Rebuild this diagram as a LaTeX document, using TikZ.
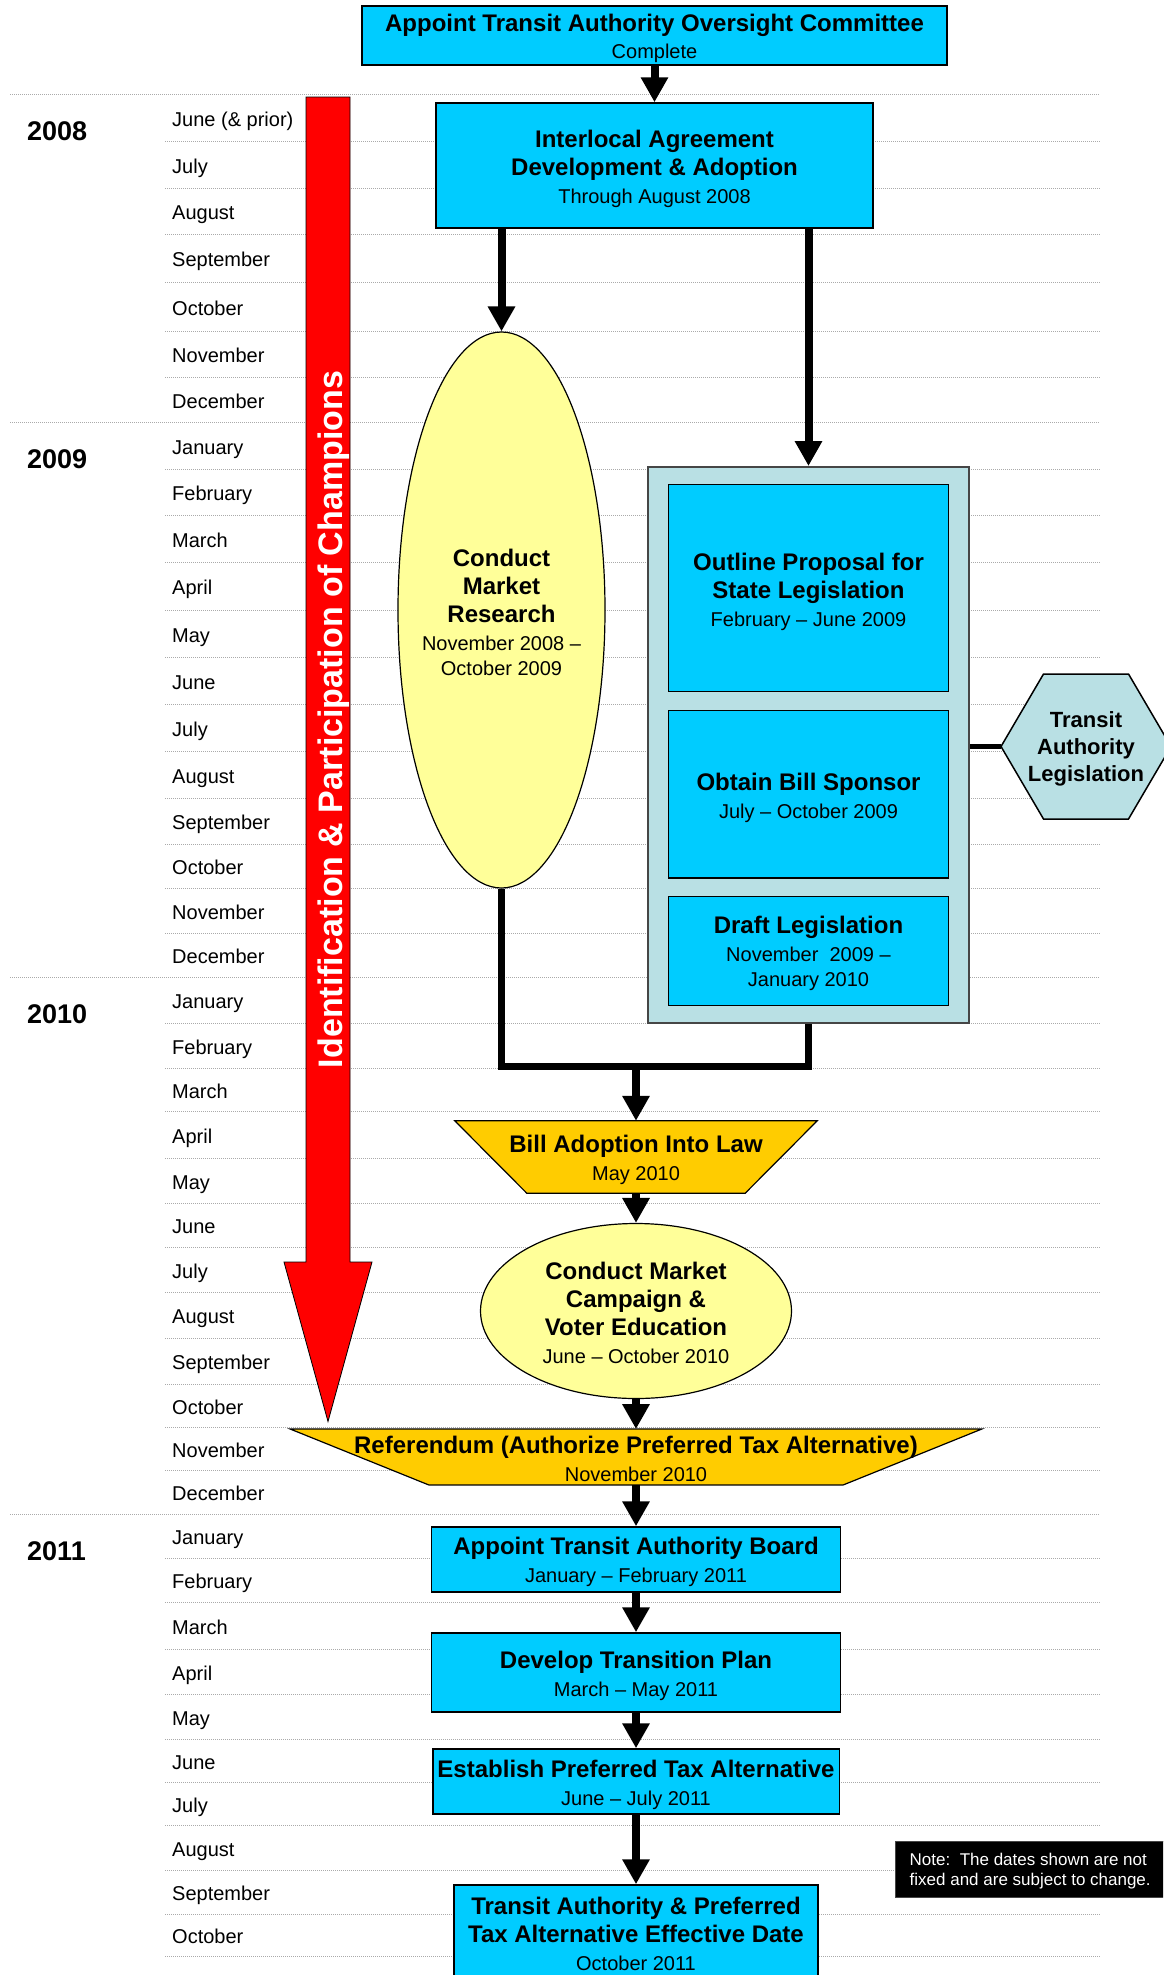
\documentclass[tikz,border=0pt]{standalone}
\usepackage{fontspec}
\setmainfont{Liberation Sans}
\usetikzlibrary{arrows.meta,shapes.geometric}
\definecolor{cyanbox}{RGB}{0,204,255}
\definecolor{lbox}{RGB}{185,224,228}
\definecolor{ybox}{RGB}{255,255,153}
\definecolor{gbox}{RGB}{255,204,0}
\definecolor{gridc}{RGB}{170,170,170}
\definecolor{contour}{RGB}{70,70,70}
\pgfdeclarelayer{gridlayer}
\pgfdeclarelayer{bglayer}
\pgfsetlayers{gridlayer,bglayer,main}
\newcommand\hd[1]{{\fontsize{24}{28}\selectfont\bfseries #1}}
\newcommand\sbt[1]{{\fontsize{20}{28}\selectfont #1}}
\tikzset{
  gridline/.style={draw=gridc, line width=1pt, dash pattern=on 1pt off 1pt},
  box/.style={draw=black, line width=1.5pt, fill=cyanbox, inner sep=0pt},
  txt/.style={inner sep=0pt, align=center, font=\fontsize{20}{28}\selectfont},
  ellbox/.style={ellipse, draw=black, line width=1.2pt, fill=ybox, inner sep=0pt},
  trap/.style={draw=black, line width=1.2pt, fill=gbox},
  flow/.style={line width=8pt, -{Triangle[width=26pt,length=25pt]}},
  joinline/.style={line width=7pt},
  monthlbl/.style={anchor=base west, inner sep=0pt, font=\fontsize{20}{24}\selectfont},
  yearlbl/.style={anchor=base west, inner sep=0pt, font=\fontsize{27}{30}\selectfont\bfseries},
}
\begin{document}
\begin{tikzpicture}[x=1pt,y=-1pt]
\useasboundingbox (0,0) rectangle (1163,1975);
\clip (0,0) rectangle (1163,1975);
% grid
\begin{pgfonlayer}{gridlayer}
\foreach \yy in {94,422,977.5,1514} \draw[gridline] (10,\yy) -- (1100,\yy);
\foreach \yy in {141,188,234,282,331,377,
  469,515,562,610,657,704,751,798,844,888,933,
  1023,1068,1111,1158,1203,1247,1292,1338,1384,1427,1470,
  1558,1602,1649,1694,1739,1782,1825,1870,1914,1956}
  \draw[gridline] (165,\yy) -- (1100,\yy);
\end{pgfonlayer}
% year labels
\node[yearlbl] (y2008) at (27,140) {2008};
\node[yearlbl] (y2009) at (27,468) {2009};
\node[yearlbl] (y2010) at (27,1023.5) {2010};
\node[yearlbl] (y2011) at (27,1560) {2011};
% month labels
\foreach \yy/\nm [count=\k] in {126/{June (\& prior)},173/July,219.5/August,266.5/September,315/October,362.5/November,408/December,
  454/January,500.5/February,547/March,594.5/April,642/May,689/June,736/July,783/August,829.5/September,874.5/October,919/November,963.75/December,
  1008.75/January,1054/February,1098/March,1143/April,1189/May,1233.5/June,1278/July,1323.5/August,1369.5/September,1414/October,1457/November,1500.5/December,
  1544.5/January,1588.5/February,1634/March,1680/April,1725/May,1769/June,1812/July,1856/August,1900.5/September,1943.5/October}
  \node[monthlbl] (mon\k) at (172,\yy) {\nm};
% red arrow
\begin{pgfonlayer}{bglayer}
\draw[fill=red, draw=black, line width=0.8pt] (306,97) -- (350,97) -- (350,1262) -- (372,1262) -- (328,1421.5) -- (284,1262) -- (306,1262) -- cycle;
\end{pgfonlayer}
\node[rotate=90, anchor=base, text=white, inner sep=0pt, font=\fontsize{34}{40}\selectfont\bfseries] (champ) at (342,719.5) {Identification \& Participation of Champions};
% shapes and texts
\node[box, minimum width=585, minimum height=59] (top) at (654.5,35.5) {};
\node[txt] (topt) at ([yshift=-3pt]top.center) {\hd{Appoint Transit Authority Oversight Committee}\\[-1pt] \sbt{Complete}};
\node[box, minimum width=437, minimum height=125] (il) at (654.5,165.5) {};
\node[txt] (ilt) at ([yshift=-3pt]il.center) {\hd{Interlocal Agreement}\\ \hd{Development \& Adoption}\\ \sbt{Through August 2008}};
\node[ellbox, minimum width=207, minimum height=556] (mr) at (501.5,610) {};
\node[txt] (mrt) at ([yshift=-2.5pt]mr.center) {\hd{Conduct}\\ \hd{Market}\\ \hd{Research}\\ \sbt{November 2008 –}\\[-3pt] \sbt{October 2009}};
\node[draw=contour, line width=2pt, fill=lbox, minimum width=321, minimum height=556, inner sep=0pt] (cont) at (808.5,745) {};
\node[box, minimum width=280, minimum height=207] (op) at (808.5,588) {};
\node[txt] (opt) at ([yshift=-3.5pt]op.center) {\hd{Outline Proposal for}\\ \hd{State Legislation}\\ \sbt{February – June 2009}};
\node[box, minimum width=280, minimum height=167.6] (ob) at (808.5,794.2) {};
\node[txt] (obt) at ([yshift=-3.5pt]ob.center) {\hd{Obtain Bill Sponsor}\\ \sbt{July – October 2009}};
\node[box, minimum width=280, minimum height=108.8] (dl) at (808.5,951.1) {};
\node[txt] (dlt) at ([yshift=-2.5pt]dl.center) {\hd{Draft Legislation}\\ \sbt{November\ \ 2009 –}\\[-3pt] \sbt{January 2010}};
\node[txt, font=\fontsize{22}{27}\selectfont\bfseries] (hex) at (1086,749) {Transit\\ Authority\\ Legislation};
\coordinate (hexc) at (1086,746.5);
\begin{pgfonlayer}{bglayer}
\draw[fill=lbox, draw=black, line width=1.5pt, shift={(hexc)}] (-85,0) -- (-42.5,-72.5) -- (42.5,-72.5) -- (85,0) -- (42.5,72.5) -- (-42.5,72.5) -- cycle;
\end{pgfonlayer}
\coordinate (hexw) at ([xshift=-85pt]hexc);
\node[minimum width=362, minimum height=72, inner sep=0pt] (bill) at (636,1157) {};
\node[txt] (billt) at ([yshift=-3pt]bill.center) {\hd{Bill Adoption Into Law}\\ \sbt{May 2010}};
\begin{pgfonlayer}{bglayer}
\draw[trap] (bill.north west) -- (bill.north east) -- ([xshift=-72pt]bill.south east) -- ([xshift=72pt]bill.south west) -- cycle;
\end{pgfonlayer}
\node[ellbox, minimum width=311, minimum height=175] (camp) at (636,1311) {};
\node[txt] (campt) at ([yshift=-1.5pt]camp.center) {\hd{Conduct Market}\\ \hd{Campaign \&}\\ \hd{Voter Education}\\ \sbt{June – October 2010}};
\node[minimum width=691, minimum height=55.5, inner sep=0pt] (ref) at (636,1457) {};
\node[txt] (reft) at ([yshift=-2pt]ref.center) {\hd{Referendum (Authorize Preferred Tax Alternative)}\\ \sbt{November 2010}};
\begin{pgfonlayer}{bglayer}
\draw[trap] (ref.north west) -- (ref.north east) -- ([xshift=-138.5pt]ref.south east) -- ([xshift=138.5pt]ref.south west) -- cycle;
\end{pgfonlayer}
\node[box, minimum width=409, minimum height=65] (board) at (636,1559.5) {};
\node[txt] (boardt) at ([yshift=-2.5pt]board.center) {\hd{Appoint Transit Authority Board}\\ \sbt{January – February 2011}};
\node[box, minimum width=409, minimum height=79] (dev) at (636,1672.5) {};
\node[txt] (devt) at ([yshift=-3.5pt]dev.center) {\hd{Develop Transition Plan}\\ \sbt{March – May 2011}};
\node[box, minimum width=406.5, minimum height=65] (est) at (636,1781.5) {};
\node[txt] (estt) at ([yshift=-3.5pt]est.center) {\hd{Establish Preferred Tax Alternative}\\ \sbt{June – July 2011}};
\node[box, minimum width=364, minimum height=98] (fin) at (636,1934) {};
\node[txt] (fint) at (fin.center) {\hd{Transit Authority \& Preferred}\\ \hd{Tax Alternative Effective Date}\\ \sbt{October 2011}};
\node[fill=black, draw=contour, line width=1pt, minimum width=272, minimum height=56, inner sep=0pt] (note) at (1031,1869) {};
\node[txt, anchor=west, align=left, text=white, font=\fontsize{17}{20}\selectfont] (notet) at ([xshift=15pt,yshift=-2.5pt]note.west) {Note:\ \ The dates shown are not\\ fixed and are subject to change.};
% connectors
\draw[flow] (top.south) -- (il.north);
\draw[flow] (il.south -| mr.north) -- (mr.north);
\draw[flow] (il.south -| cont.north) -- (cont.north);
\coordinate (jn) at (636,1066);
\draw[joinline] (mr.south) |- (jn) -| (cont.south);
\draw[flow] (jn) -- (bill.north);
\draw[flow] (bill.south) -- (camp.north);
\draw[flow] (camp.south) -- (ref.north);
\draw[flow] (ref.south) -- (board.north);
\draw[flow] (board.south) -- (dev.north);
\draw[flow] (dev.south) -- (est.north);
\draw[flow] (est.south) -- (fin.north);
\draw[line width=5pt] (cont.east |- hexw) -- (hexw);
\end{tikzpicture}
\end{document}
